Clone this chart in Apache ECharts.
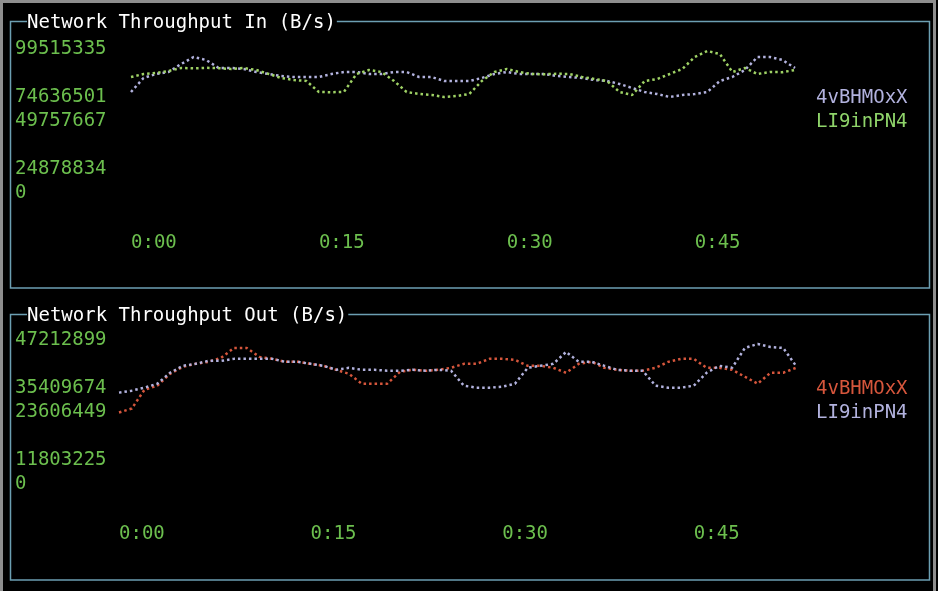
<!DOCTYPE html>
<html>
<head>
<meta charset="utf-8">
<title>Network Throughput</title>
<script src="https://cdn.jsdelivr.net/npm/echarts@6/dist/echarts.min.js"></script>
<style>
  html, body { margin: 0; padding: 0; background: #000; }
  #main { width: 938px; height: 591px; }
</style>
</head>
<body>
<div id="main"></div>
<script>
// samples, one per second
var seconds = [];
for (var i = 0; i < 54; i++) seconds.push(i);

// tick labels on the y side, bottom row first (terminal rows, some empty)
var yTicksIn = ['0', '24878834', '', '49757667', '74636501', '', '99515335'];
var yTicksOut = ['0', '11803225', '', '23606449', '35409674', '', '47212899'];
var maxIn = 99515335;
var maxOut = 47212899;

// Network Throughput In (B/s)
var in4vBHMOxX = [69799000, 79474000, 82238000, 83621000, 89149000, 93987000, 91914000, 86385000, 86385000, 85694000,
  83621000, 82238000, 80856000, 80166000, 80166000, 80166000, 82238000, 83621000, 83621000, 82238000,
  82238000, 83621000, 83621000, 80166000, 80166000, 77401000, 77401000, 77401000, 79474000, 82238000,
  83621000, 82238000, 82238000, 82238000, 80856000, 80166000, 79474000, 78092000, 77401000, 75328000,
  72563000, 69799000, 68417000, 66344000, 67726000, 68417000, 69799000, 77401000, 80166000, 85003000,
  93987000, 93987000, 91914000, 86385000];
var inLI9inPN4 = [80166000, 82238000, 82929000, 84312000, 86385000, 86120000, 86530000, 86290000, 85694000, 86385000,
  85003000, 82238000, 79474000, 78092000, 77401000, 69799000, 69650000, 69910000, 82238000, 85003000,
  83621000, 77401000, 69799000, 68417000, 67726000, 66344000, 67034000, 68417000, 77401000, 83621000,
  85694000, 83621000, 82238000, 82100000, 82380000, 82238000, 80166000, 78783000, 77401000, 69799000,
  67726000, 77401000, 78783000, 82238000, 85694000, 93987000, 98133000, 96060000, 83621000, 86385000,
  82238000, 83621000, 83500000, 85003000];

// Network Throughput Out (B/s)
var out4vBHMOxX = [23444000, 24746000, 30933000, 32235000, 36142000, 38422000, 39398000, 40050000, 41352000, 44608000,
  44608000, 41678000, 41026000, 40050000, 40050000, 39398000, 38747000, 37445000, 36142000, 32886000,
  32886000, 32886000, 36793000, 37445000, 37119000, 37445000, 38096000, 39398000, 39398000, 41026000,
  41026000, 40701000, 38747000, 38747000, 38096000, 36468000, 39398000, 40050000, 38096000, 37445000,
  37119000, 37119000, 38096000, 40050000, 41026000, 41026000, 38096000, 38096000, 37445000, 35166000,
  32886000, 36468000, 36468000, 38096000];
var outLI9inPN4 = [29956000, 30607000, 31584000, 32886000, 36468000, 38747000, 39398000, 40375000, 40375000, 41026000,
  41026000, 41026000, 41026000, 40050000, 40050000, 39398000, 38747000, 37445000, 38096000, 37445000,
  37445000, 37119000, 37119000, 37445000, 37119000, 37445000, 37119000, 32235000, 31584000, 31584000,
  31909000, 32886000, 38096000, 38747000, 39398000, 43306000, 40050000, 40050000, 38747000, 37445000,
  37119000, 37119000, 32235000, 31584000, 31584000, 32235000, 36468000, 38747000, 38096000, 44608000,
  45910000, 44934000, 44608000, 38747000];

var mono = "'DejaVu Sans Mono', monospace";
var labelGreen = '#6cbf4e';
var lineGreen = '#9fd265';
var lavender = '#b2b2de';
var red = '#d6563c';
var boxColor = '#6c9fb2';

function pairs(values) {
  return values.map(function (v, i) { return [seconds[i], v]; });
}

function timeLabel(v) {
  if (v % 15 !== 0) return '';
  return '0:' + (v < 10 ? '0' : '') + v;
}

function xAxisFor(grid) {
  return {
    type: 'value', gridIndex: grid, min: 0, max: seconds[seconds.length - 1], interval: 15,
    axisLine: { show: false }, axisTick: { show: false }, splitLine: { show: false },
    axisLabel: {
      color: labelGreen, fontFamily: mono, fontSize: 19, align: 'left', verticalAlign: 'middle',
      margin: 50, showMaxLabel: false, formatter: timeLabel
    }
  };
}

function tickAxisFor(grid, ticks, margin) {
  return {
    type: 'category', gridIndex: grid, position: 'left', data: ticks, boundaryGap: false,
    axisLine: { show: false }, axisTick: { show: false }, splitLine: { show: false },
    axisLabel: { color: labelGreen, fontFamily: mono, fontSize: 19, align: 'left', margin: margin, interval: 0 }
  };
}

function dotted(name, color, values, xi, yi) {
  return {
    name: name, type: 'line', xAxisIndex: xi, yAxisIndex: yi,
    data: pairs(values), symbol: 'none', color: color,
    lineStyle: { color: color, width: 2.5, type: [2.5, 3], cap: 'butt' }
  };
}

var chart = echarts.init(document.getElementById('main'));

var option = {
  backgroundColor: '#000',
  animation: false,
  title: [
    { text: 'Network Throughput In (B/s)', left: 27, top: 14, padding: [0, 1, 0, 0], backgroundColor: '#000',
      textStyle: { color: '#fff', fontFamily: mono, fontSize: 19, fontWeight: 'normal', lineHeight: 19 } },
    { text: 'Network Throughput Out (B/s)', left: 27, top: 307, padding: [0, 1, 0, 0], backgroundColor: '#000',
      textStyle: { color: '#fff', fontFamily: mono, fontSize: 19, fontWeight: 'normal', lineHeight: 19 } }
  ],
  graphic: [
    { type: 'rect', z: 0, silent: true, shape: { x: 1.5, y: 1.5, width: 933, height: 620 },
      style: { fill: null, stroke: '#8e8e8e', lineWidth: 3 } },
    { type: 'rect', z: 0, silent: true, shape: { x: 10.5, y: 21.5, width: 919, height: 266.5 },
      style: { fill: null, stroke: boxColor, lineWidth: 1.5 } },
    { type: 'rect', z: 0, silent: true, shape: { x: 10.5, y: 314.5, width: 919, height: 265.5 },
      style: { fill: null, stroke: boxColor, lineWidth: 1.5 } }
  ],
  legend: [
    { orient: 'vertical', left: 805, top: 84, itemWidth: 0, itemHeight: 0, itemGap: 5, selectedMode: false,
      textStyle: { fontFamily: mono, fontSize: 19, lineHeight: 19 },
      data: [{ name: '4vBHMOxX', textStyle: { color: lavender } }, { name: 'LI9inPN4', textStyle: { color: '#8fd46a' } }] },
    { orient: 'vertical', left: 805, top: 375, itemWidth: 0, itemHeight: 0, itemGap: 5, selectedMode: false,
      textStyle: { fontFamily: mono, fontSize: 19, lineHeight: 19 },
      data: [{ name: '4vBHMOxX', textStyle: { color: red } }, { name: 'LI9inPN4', textStyle: { color: lavender } }] }
  ],
  grid: [
    { left: 131, right: 143, top: 49, height: 144, outerBoundsMode: 'none' },
    { left: 119, right: 142, top: 340, height: 144, outerBoundsMode: 'none' }
  ],
  xAxis: [xAxisFor(0), xAxisFor(1)],
  yAxis: [
    { type: 'value', gridIndex: 0, min: 0, max: maxIn, show: false },
    tickAxisFor(0, yTicksIn, 116),
    { type: 'value', gridIndex: 1, min: 0, max: maxOut, show: false },
    tickAxisFor(1, yTicksOut, 104)
  ],
  series: [
    dotted('4vBHMOxX', lavender, in4vBHMOxX, 0, 0),
    dotted('LI9inPN4', lineGreen, inLI9inPN4, 0, 0),
    dotted('4vBHMOxX', red, out4vBHMOxX, 1, 2),
    dotted('LI9inPN4', lavender, outLI9inPN4, 1, 2)
  ]
};

chart.setOption(option);
</script>
</body>
</html>
